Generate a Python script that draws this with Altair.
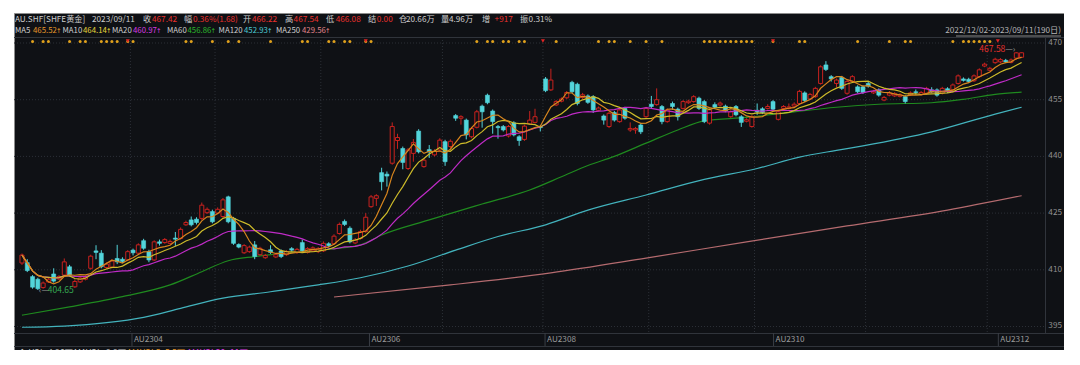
import altair as alt
import pandas as pd

# ---------------- data ----------------
# daily candles, 2022/12/02 - 2023/09/11 (190 trading days), index 0..189
opens = [411.8, 411.9, 408.2, 407.5, 405.3, 406.8, 408.9, 407.6, 408.6, 410.8,
         405.5, 406.8, 407.5, 410.4, 415.0, 414.4, 410.6, 410.7, 413.0, 412.8,
         412.6, 415.2, 414.4, 417.7, 414.8, 412.6, 417.4, 417.2, 417.0, 418.4,
         418.3, 421.9, 423.2, 423.4, 423.6, 425.1, 425.4, 425.0, 424.1, 429.3,
         423.6, 416.7, 414.5, 414.8, 416.6, 414.0, 413.2, 415.3, 413.4, 415.0,
         414.0, 415.6, 414.6, 417.2, 414.6, 415.0, 414.8, 415.0, 416.9, 416.9,
         419.6, 422.8, 421.0, 417.1, 418.3, 420.1, 426.7, 428.9, 435.7, 435.3,
         438.2, 444.2, 442.1, 436.8, 440.8, 446.7, 437.3, 441.8, 440.4, 441.7,
         443.9, 442.6, 450.8, 450.1, 449.6, 445.2, 447.7, 453.3, 456.2, 452.0,
         447.9, 447.9, 445.4, 448.9, 445.2, 444.5, 448.6, 449.0, 447.9, 460.5,
         457.6, 453.6, 454.6, 455.5, 459.6, 459.1, 455.6, 456.0, 455.8, 452.2,
         450.7, 447.9, 451.6, 449.2, 452.7, 447.0, 447.0, 448.3, 450.5, 453.8,
         453.7, 453.2, 449.2, 454.0, 452.5, 452.7, 454.2, 454.5, 455.4, 454.5,
         448.8, 453.7, 453.6, 453.3, 450.5, 453.2, 450.5, 449.3, 447.9, 452.2,
         452.6, 452.7, 454.5, 449.8, 452.7, 452.7, 453.3, 454.0, 456.8, 455.2,
         455.8, 459.3, 464.2, 461.1, 459.3, 460.9, 456.7, 459.8, 458.4, 458.4,
         459.3, 456.8, 457.6, 454.9, 456.2, 456.0, 455.9, 455.8, 456.3, 457.1,
         456.4, 456.7, 457.6, 457.6, 456.7, 457.9, 457.6, 459.3, 460.5, 460.4,
         460.0, 461.1, 463.9, 462.8, 464.8, 465.0, 465.4, 464.9, 466.0, 466.22]
closes = [413.9, 409.8, 405.4, 405.0, 406.5, 407.5, 407.0, 408.2, 412.1, 408.6,
          406.9, 407.8, 408.0, 413.6, 414.6, 410.8, 411.5, 412.3, 412.1, 412.2,
          414.8, 414.5, 416.6, 415.7, 412.6, 417.4, 417.0, 418.0, 417.5, 418.1,
          420.7, 422.5, 421.9, 422.5, 427.1, 426.0, 422.7, 426.0, 428.5, 422.7,
          417.0, 416.0, 416.4, 416.0, 413.5, 415.7, 413.8, 414.6, 414.0, 413.5,
          414.8, 415.2, 415.4, 415.0, 415.6, 415.8, 415.6, 417.0, 416.4, 418.9,
          422.0, 422.0, 417.4, 417.9, 420.1, 423.9, 429.3, 429.6, 433.3, 434.8,
          447.9, 445.0, 438.4, 441.7, 443.7, 441.2, 439.0, 441.2, 441.4, 444.3,
          438.6, 444.0, 450.1, 450.5, 445.7, 447.4, 451.8, 451.8, 454.2, 449.2,
          447.6, 447.0, 447.9, 445.7, 444.2, 448.0, 449.6, 450.5, 447.6, 457.4,
          460.2, 454.5, 455.2, 456.9, 457.1, 454.0, 456.3, 454.3, 452.3, 452.8,
          449.6, 451.4, 449.6, 452.3, 450.1, 447.4, 447.4, 446.5, 452.7, 453.2,
          455.0, 449.2, 452.3, 453.2, 450.5, 454.5, 454.6, 455.8, 452.7, 449.2,
          452.3, 453.0, 454.1, 452.0, 451.8, 451.0, 449.0, 449.7, 450.5, 451.8,
          451.6, 453.2, 452.5, 451.8, 453.2, 453.1, 453.8, 457.2, 454.8, 456.4,
          458.0, 463.7, 463.0, 460.5, 460.2, 458.0, 459.8, 461.1, 457.1, 456.9,
          458.6, 457.2, 456.2, 455.6, 456.8, 456.6, 456.3, 454.5, 456.8, 456.9,
          456.9, 458.0, 457.1, 456.2, 458.0, 457.4, 458.9, 461.3, 460.1, 459.8,
          461.3, 462.9, 464.4, 463.3, 465.7, 465.6, 465.0, 465.5, 467.4, 467.42]
highs = [414.3, 412.8, 408.6, 407.9, 406.9, 408.0, 410.4, 408.6, 413.0, 411.3,
         407.5, 408.3, 408.5, 414.0, 416.5, 415.2, 412.0, 412.8, 416.6, 413.3,
         415.2, 415.6, 417.0, 418.2, 415.3, 417.8, 418.0, 418.4, 418.0, 420.0,
         421.2, 423.0, 424.1, 423.9, 427.8, 426.5, 425.9, 426.5, 429.0, 429.6,
         424.0, 417.0, 416.8, 416.4, 417.6, 416.1, 414.2, 416.5, 414.4, 415.4,
         415.2, 416.0, 415.8, 418.0, 416.0, 416.2, 416.0, 417.5, 417.3, 419.4,
         422.5, 423.3, 421.5, 418.4, 420.6, 425.0, 429.8, 430.0, 437.0, 436.0,
         449.0, 446.0, 442.6, 442.2, 444.6, 447.2, 439.5, 443.0, 441.9, 444.8,
         444.4, 444.5, 451.2, 450.9, 450.0, 447.8, 452.3, 453.7, 456.6, 452.4,
         448.3, 448.3, 448.3, 449.3, 445.6, 448.4, 452.0, 452.6, 448.3, 461.0,
         463.2, 454.9, 455.6, 457.3, 460.0, 459.5, 456.8, 456.4, 456.2, 453.2,
         451.1, 451.8, 452.0, 452.7, 453.1, 449.0, 447.8, 448.7, 453.1, 456.0,
         458.0, 453.6, 452.7, 454.5, 452.9, 454.9, 455.0, 456.2, 455.8, 454.9,
         452.7, 454.3, 454.5, 453.7, 452.2, 453.6, 450.9, 450.1, 450.9, 454.0,
         453.0, 453.8, 454.9, 452.2, 453.6, 454.0, 454.3, 457.6, 457.2, 456.8,
         458.4, 464.1, 465.2, 461.5, 460.6, 461.3, 460.2, 461.5, 458.8, 458.8,
         459.7, 457.6, 458.0, 456.0, 457.3, 457.0, 456.7, 456.2, 457.2, 457.7,
         457.3, 458.4, 458.3, 458.0, 458.4, 458.3, 459.3, 461.7, 460.9, 460.8,
         461.7, 463.3, 464.8, 463.7, 466.1, 466.0, 465.8, 465.9, 467.58, 467.54]
lows = [411.3, 409.4, 405.0, 404.65, 405.0, 406.5, 406.6, 407.3, 408.3, 408.2,
        405.2, 406.5, 407.2, 410.0, 412.8, 410.4, 410.2, 410.4, 411.5, 411.8,
        412.3, 413.8, 414.0, 415.3, 412.0, 412.3, 416.4, 416.9, 416.7, 416.3,
        418.0, 421.6, 421.5, 422.0, 423.2, 424.8, 422.3, 424.7, 423.8, 422.3,
        416.6, 415.7, 414.2, 414.5, 412.8, 413.7, 412.9, 414.2, 413.1, 413.1,
        413.7, 414.8, 414.2, 414.6, 414.3, 414.7, 414.4, 414.7, 416.0, 416.6,
        419.3, 421.6, 417.0, 416.8, 418.0, 419.8, 426.4, 426.9, 431.0, 432.0,
        437.8, 442.0, 436.6, 436.4, 438.6, 440.8, 437.0, 439.6, 440.0, 441.4,
        437.5, 442.2, 449.4, 448.4, 444.5, 444.8, 447.4, 447.6, 453.8, 446.0,
        444.7, 446.6, 445.0, 445.3, 442.8, 444.1, 448.3, 448.7, 446.6, 457.0,
        457.3, 453.3, 454.3, 455.2, 456.7, 453.5, 455.2, 453.9, 451.5, 451.9,
        448.4, 447.5, 449.2, 448.9, 449.7, 446.5, 446.0, 445.9, 450.2, 452.8,
        453.4, 448.5, 448.9, 452.3, 449.5, 452.4, 453.9, 454.2, 452.3, 448.8,
        448.4, 452.6, 453.3, 451.7, 450.2, 450.6, 447.8, 449.0, 447.6, 451.0,
        451.2, 452.4, 452.1, 449.5, 452.4, 452.4, 453.0, 453.7, 454.4, 454.9,
        455.5, 459.0, 462.6, 459.8, 458.3, 457.6, 456.3, 459.5, 456.7, 456.5,
        458.2, 456.5, 455.8, 454.6, 455.9, 455.7, 455.6, 454.0, 456.0, 456.3,
        456.1, 456.4, 456.8, 455.8, 456.4, 456.8, 457.3, 459.0, 459.8, 459.4,
        459.7, 460.8, 463.6, 462.5, 464.5, 464.7, 464.7, 464.6, 465.6, 466.08]

# long moving averages (candle index, value)
ma60_idx = [0, 9, 19, 28, 34, 39, 44, 53, 59, 64, 68, 77, 87, 96, 102, 107, 112, 118,
            124, 129, 137, 146, 154, 162, 172, 178, 184, 189]
ma60_val = [398.0, 400.2, 402.9, 406.0, 409.5, 412.4, 413.5, 414.8, 415.6, 416.6, 419.2,
            423.2, 427.4, 431.1, 434.6, 437.6, 440.0, 443.5, 447.0, 449.4, 450.3, 451.8,
            453.0, 453.8, 454.2, 455.1, 456.4, 457.0]
ma120_idx = [0, 8, 16, 23, 30, 38, 47, 56, 64, 73, 82, 90, 99, 107, 118, 129, 139, 147,
             154, 159, 172, 184, 189]
ma120_val = [394.8, 395.1, 396.0, 397.4, 399.8, 402.5, 404.2, 406.0, 407.9, 411.0, 415.2,
             418.8, 421.9, 425.8, 429.8, 433.9, 436.8, 439.8, 441.6, 442.8, 446.5, 451.2,
             453.0]
ma250_idx = [59, 81, 100, 118, 137, 156, 175, 189]
ma250_val = [402.8, 406.0, 409.2, 413.1, 417.4, 421.6, 425.8, 429.6]

# signal markers (candle index) and contract rolls
star_idx = [2, 4, 5, 9, 11, 12, 15, 16, 17, 18, 20, 21, 31, 32, 36, 39, 41, 47, 53, 54,
            58, 59, 61, 62, 65, 66, 86, 88, 89, 91, 92, 94, 95, 101, 109, 111, 112, 115,
            118, 121, 129, 130, 131, 132, 133, 134, 135, 136, 137, 138, 142, 147, 148,
            158, 164, 167, 168, 176, 178, 179, 180, 181, 182, 183]
flag_idx = [20, 65, 98.5, 142, 184.5]
month_idx = [20.5, 36.5, 56.5, 79.5, 98.5, 118.5, 138.5, 159.5, 182.5]
contract_idx = [20.8, 65.7, 98.9, 142.1, 184.6]
contract_lbl = ["AU2304", "AU2306", "AU2308", "AU2310", "AU2312"]
y_ticks = [470, 455, 440, 425, 410, 395]

header_txt = ["AU.SHF[SHFE黄金]", "2023/09/11", "收", "467.42", "幅", "0.36%(1.68)", "开",
              "466.22", "高", "467.54", "低", "466.08", "结", "0.00", "仓", "20.66万", "量",
              "4.96万", "增", "+917", "振", "0.31%"]
ma_names = ["MA5", "MA10", "MA20", "MA60", "MA120", "MA250"]
ma_last = ["465.52", "464.14", "460.97", "456.86", "452.93", "429.56"]
vol_txt = ["◆", "VOL", "4.96万", "MAVOL", "9.9万", "MAVOL5", "5.5万", "MAVOL20", "11万"]

# ---------------- styling ----------------
FONT = "Noto Sans CJK SC"
BG = "#0f1115"
GRID = "#2c3037"
SEP = "#30343b"
RED = "#c8221f"
CYAN = "#53d5db"
TXT = "#cdcdcd"
VRED = "#e8302c"
C_MA5, C_MA10, C_MA20 = "#d8861e", "#cdbb2a", "#bf2bc6"
C_MA60, C_MA120, C_MA250 = "#1f8a1f", "#43b3bd", "#b56b6f"
L_MA = ["#e6962a", "#e6d53a", "#d83be0", "#2bb52b", "#4ccad4", "#e0848a"]
HS = 8.2  # header font size
MS = 7.8  # MA legend font size

W, H = 1050, 337
xs = alt.Scale(domain=[-0.5618, 196.07], nice=False, zero=False)
ys = alt.Scale(domain=[388.783, 477.937], nice=False, zero=False)

idx = list(range(len(closes)))
df = pd.DataFrame({"i": idx, "open": opens, "high": highs, "low": lows, "close": closes})
up = df[df["close"] >= df["open"]]
dn = df[df["close"] < df["open"]]
one = pd.DataFrame({"a": [0]})

X = alt.X("i:Q", scale=xs, axis=None)
layers = []


def txt(s, x, y, color, size=HS, align="left", font=FONT):
    return alt.Chart(pd.DataFrame({"t": [s]})).mark_text(
        align=align, baseline="middle", color=color, fontSize=size, font=font
    ).encode(x=alt.value(x), y=alt.value(y), text="t:N")


def rule(x0, x1, y0, y1, color, dash=None):
    kw = {"strokeDash": dash} if dash else {}
    return alt.Chart(one).mark_rule(color=color, strokeWidth=1, **kw).encode(
        x=alt.value(x0), x2=alt.value(x1), y=alt.value(y0), y2=alt.value(y1))


# grid
layers.append(alt.Chart(pd.DataFrame({"v": y_ticks})).mark_rule(
    color=GRID, strokeDash=[1, 2]).encode(
    y=alt.Y("v:Q", scale=ys, axis=None), x=alt.value(0), x2=alt.value(1031)))
layers.append(alt.Chart(pd.DataFrame({"i": month_idx})).mark_rule(
    color=GRID, strokeDash=[1, 2]).encode(x=X, y=alt.value(24), y2=alt.value(320)))
# frame separators
layers.append(rule(0, W, 24.5, 24.5, SEP))
layers.append(rule(0, W, 320.5, 320.5, SEP))
layers.append(rule(0, W, 333.5, 333.5, SEP))
layers.append(rule(1031.5, 1031.5, 24, 320, SEP))
# contract separators and labels
cdf = pd.DataFrame({"i": contract_idx, "t": contract_lbl})
layers.append(alt.Chart(cdf).mark_rule(color="#3a3e45").encode(
    x=X, y=alt.value(320), y2=alt.value(333)))
layers.append(alt.Chart(cdf).mark_text(
    align="left", baseline="middle", dx=2, color="#9a9a9a", fontSize=8.2, font=FONT).encode(
    x=X, y=alt.value(326.5), text="t:N"))
# y labels
layers.append(alt.Chart(pd.DataFrame({"v": y_ticks})).mark_text(
    align="right", baseline="middle", color="#8f8f8f", fontSize=8.2, font=FONT).encode(
    y=alt.Y("v:Q", scale=ys, axis=None), x=alt.value(1048), text=alt.Text("v:Q")))

# long MAs
for ix, vals, col in [(ma250_idx, ma250_val, C_MA250), (ma120_idx, ma120_val, C_MA120),
                      (ma60_idx, ma60_val, C_MA60)]:
    layers.append(alt.Chart(pd.DataFrame({"i": ix, "v": vals})).mark_line(
        color=col, strokeWidth=1.2, interpolate="monotone").encode(
        x=X, y=alt.Y("v:Q", scale=ys, axis=None)))

# wicks
layers.append(alt.Chart(up).mark_rule(color=RED, strokeWidth=1).encode(
    x=X, y=alt.Y("low:Q", scale=ys, axis=None), y2="high:Q"))
layers.append(alt.Chart(dn).mark_rule(color=CYAN, strokeWidth=1).encode(
    x=X, y=alt.Y("low:Q", scale=ys, axis=None), y2="high:Q"))
# bodies
layers.append(alt.Chart(up).mark_bar(size=4, fill=BG, stroke=RED, strokeWidth=1).encode(
    x=X, y=alt.Y("open:Q", scale=ys, axis=None), y2="close:Q"))
layers.append(alt.Chart(dn).mark_bar(size=4, fill=CYAN, stroke=CYAN, strokeWidth=0.6).encode(
    x=X, y=alt.Y("open:Q", scale=ys, axis=None), y2="close:Q"))

# short MAs computed from closes
for n, col in [(20, C_MA20), (10, C_MA10), (5, C_MA5)]:
    layers.append(alt.Chart(df).transform_window(
        ma="mean(close)", frame=[-(n - 1), 0], sort=[alt.SortField("i")]).mark_line(
        color=col, strokeWidth=1.2).encode(x=X, y=alt.Y("ma:Q", scale=ys, axis=None)))

# markers
layers.append(alt.Chart(pd.DataFrame({"i": star_idx})).mark_point(
    shape="circle", filled=True, size=9, color="#e0a11c", opacity=1).encode(
    x=X, y=alt.value(28.5)))
layers.append(alt.Chart(pd.DataFrame({"i": flag_idx})).mark_point(
    shape="triangle-down", filled=True, size=16, color="#e02424", opacity=1).encode(
    x=X, y=alt.value(28)))

# extreme labels
hi = pd.DataFrame({"i": [188], "v": [max(highs)], "t": ["%.2f" % max(highs)]})
lo = pd.DataFrame({"i": [3], "v": [min(lows)], "t": ["%.2f" % min(lows)]})
layers.append(alt.Chart(hi).mark_text(align="right", baseline="middle", dx=-11, dy=-3,
                                      color=VRED, fontSize=8.5, font=FONT).encode(
    x=X, y=alt.Y("v:Q", scale=ys, axis=None), text="t:N"))
layers.append(alt.Chart(hi).mark_text(align="right", baseline="middle", dx=-1, dy=-3,
                                      color="#9a9a9a", fontSize=8.5, font=FONT, text="—›").encode(
    x=X, y=alt.Y("v:Q", scale=ys, axis=None)))
layers.append(alt.Chart(lo).mark_text(align="left", baseline="middle", dx=1, dy=0,
                                      color="#9a9a9a", fontSize=8.5, font=FONT, text="‹—").encode(
    x=X, y=alt.Y("v:Q", scale=ys, axis=None)))
layers.append(alt.Chart(lo).mark_text(align="left", baseline="middle", dx=10, dy=0,
                                      color="#36a852", fontSize=8.5, font=FONT).encode(
    x=X, y=alt.Y("v:Q", scale=ys, axis=None), text="t:N"))

# header line 1
hx = [15, 92, 143, 152, 184, 193, 243, 252, 285, 293.6, 326, 335.7, 368, 376.8,
      399, 406, 441, 449, 482, 494.6, 520, 528.6]
hcol = [TXT, TXT, TXT, VRED, TXT, VRED, TXT, VRED, TXT, VRED, TXT, VRED, TXT, VRED,
        TXT, TXT, TXT, TXT, TXT, VRED, TXT, TXT]
for s, x, c in zip(header_txt, hx, hcol):
    layers.append(txt(s, x - 14, 6.5, c))
# header line 2 (MA legend): name, value, small up-arrow
name_x = [15, 62.5, 112, 167, 218.6, 276]
val_x = [33, 83, 133, 187.5, 244, 302]
for k in range(6):
    layers.append(txt(ma_names[k], name_x[k] - 14, 18, TXT, size=MS))
    layers.append(txt(ma_last[k], val_x[k] - 14, 18, L_MA[k], size=MS))
    layers.append(txt("↑", val_x[k] + 23 - 14, 18, L_MA[k], size=6.5, font="DejaVu Sans"))
layers.append(txt("2022/12/02-2023/09/11(190日)", 1047, 18, "#b5b5b5", size=8.2, align="right"))
layers.append(rule(942, 1047, 23, 23, "#8a8a8a"))
# volume row (cut by frame)
vx = [18, 29, 48, 74, 106, 128, 165, 188, 230]
vcol = [TXT, TXT, TXT, TXT, TXT, "#e6962a", "#e6962a", "#d83be0", "#d83be0"]
for s, x, c in zip(vol_txt, vx, vcol):
    layers.append(alt.Chart(pd.DataFrame({"t": [s]})).mark_text(
        align="left", baseline="middle", color=c, fontSize=8.5, font=FONT, clip=True).encode(
        x=alt.value(x - 14), y=alt.value(340), text="t:N"))

chart = alt.layer(*layers).properties(
    width=W, height=H, background="white", autosize="none",
    padding={"left": 6, "top": 5, "right": 0, "bottom": 0},
).configure_view(fill=BG, stroke="#8c8c8c", strokeWidth=1)

chart.save("out.html", embed_options={"renderer": "svg", "actions": False})
